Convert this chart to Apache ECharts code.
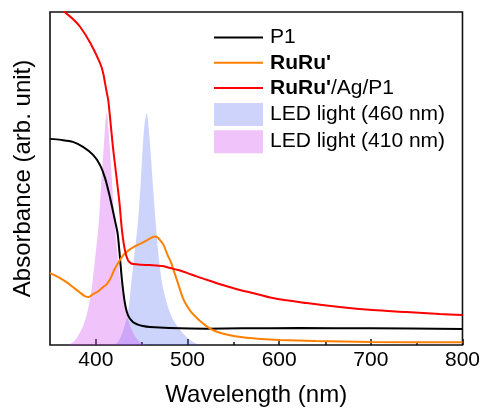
<!DOCTYPE html>
<html>
<head>
<meta charset="utf-8">
<script src="https://cdn.jsdelivr.net/npm/echarts@6/dist/echarts.min.js"></script>
<style>
  html, body { margin: 0; padding: 0; background: #fff; }
  #chart { width: 483px; height: 412px; }
</style>
</head>
<body>
<div id="chart"></div>
<script>
// Absorption spectra (arbitrary units) and LED emission profiles
const p1Wl  = [350, 362, 375, 386, 397, 404.5, 410, 415.4, 420.8, 424, 428.5, 431.7, 435, 440.4, 446, 451.3, 459, 480, 521, 560, 622, 700, 800];
const p1Abs = [0.619, 0.616, 0.610, 0.595, 0.571, 0.541, 0.502, 0.444, 0.375, 0.33, 0.195, 0.126, 0.090, 0.069, 0.061, 0.057, 0.054, 0.051, 0.049, 0.050, 0.051, 0.050, 0.048];

const ruWl  = [350, 357, 361, 368, 375, 382, 388, 392, 397, 403, 408, 412, 416, 420, 425, 430, 436, 443, 450, 456, 460, 464, 467, 470, 474, 478, 482, 486, 490, 495, 500, 505, 510, 515, 520, 530, 545, 560, 580, 600, 640, 700, 800];
const ruAbs = [0.216, 0.207, 0.201, 0.189, 0.174, 0.159, 0.147, 0.144, 0.153, 0.162, 0.174, 0.183, 0.200, 0.225, 0.249, 0.270, 0.285, 0.297, 0.306, 0.315, 0.321, 0.326, 0.324, 0.315, 0.300, 0.272, 0.248, 0.215, 0.182, 0.141, 0.115, 0.096, 0.082, 0.069, 0.058, 0.042, 0.030, 0.023, 0.018, 0.015, 0.012, 0.009, 0.008];

const hybWl  = [350, 366, 375, 383, 394, 404.5, 408, 410, 412, 413.5, 415, 419, 425.5, 428.5, 431.7, 435, 438, 441, 450, 459, 473, 481, 490, 500, 510, 521, 538.5, 557, 567, 593, 630, 666, 702, 739, 775, 800];
const hybAbs = [1.04, 1.0, 0.979, 0.955, 0.907, 0.847, 0.817, 0.787, 0.757, 0.736, 0.697, 0.586, 0.435, 0.345, 0.285, 0.255, 0.246, 0.243, 0.241, 0.240, 0.237, 0.231, 0.225, 0.216, 0.206, 0.196, 0.180, 0.165, 0.159, 0.141, 0.126, 0.114, 0.105, 0.099, 0.093, 0.090];

const led460Wl  = [420, 425, 430, 435, 439, 442, 446, 449, 451, 453, 455.5, 458, 460, 462, 465, 468, 472, 476, 481, 486, 492, 500, 508, 515];
const led460Int = [0, 0.012, 0.045, 0.096, 0.195, 0.27, 0.37, 0.49, 0.586, 0.66, 0.697, 0.64, 0.57, 0.49, 0.38, 0.28, 0.19, 0.14, 0.096, 0.068, 0.045, 0.022, 0.006, 0];

const led410Wl  = [370, 375, 380, 385, 390, 395, 400, 403, 406, 409, 411, 412, 414, 417, 420, 423, 427, 432, 437, 442, 447, 452, 455];
const led410Int = [0, 0.008, 0.025, 0.05, 0.09, 0.16, 0.28, 0.36, 0.49, 0.61, 0.69, 0.697, 0.64, 0.52, 0.39, 0.29, 0.19, 0.11, 0.06, 0.03, 0.012, 0.003, 0];

const majorTicks = [400, 500, 600, 700, 800];
const minorTicks = [450, 550, 650, 750];

const FONT = 'Liberation Sans, Arial, sans-serif';
const pairs = (xs, ys) => xs.map((x, i) => [x, ys[i]]);

const chart = echarts.init(document.getElementById('chart'), null, { renderer: 'canvas' });

const lineSeries = (name, xs, ys, color) => ({
  name, type: 'line', data: pairs(xs, ys),
  xAxisIndex: 0, yAxisIndex: 0,
  showSymbol: false, symbol: 'none', smooth: 0.3, clip: true,
  lineStyle: { color, width: 2 }, itemStyle: { color },
  emphasis: { disabled: true }
});

const bandSeries = (name, xs, ys, color, opacity) => ({
  name, type: 'line', data: pairs(xs, ys),
  xAxisIndex: 0, yAxisIndex: 0,
  showSymbol: false, symbol: 'none', smooth: 0.3, clip: true,
  lineStyle: { width: 0, opacity: 0 },
  itemStyle: { color },
  areaStyle: { color, opacity },
  emphasis: { disabled: true }
});

// legend entries for the curves show only the line stroke
const lineKey = (name) => ({ name, itemStyle: { opacity: 0 } });

chart.setOption({
  animation: false,
  backgroundColor: '#fff',
  grid: [
    { left: 50, right: 20, top: 12, bottom: 67, show: true, borderColor: '#111', borderWidth: 1.6, backgroundColor: 'transparent' },
    { left: 50, right: 20, top: 12, bottom: 67, show: false }
  ],
  xAxis: [
    {
      type: 'value', gridIndex: 0, min: 350, max: 800,
      name: 'Wavelength (nm)', nameLocation: 'middle', nameGap: 38,
      nameTextStyle: { fontFamily: FONT, fontSize: 24, color: '#000' },
      axisLine: { show: false },
      axisTick: { show: true, inside: true, length: 6, customValues: majorTicks, lineStyle: { color: '#111', width: 1.5 } },
      axisLabel: { show: true, customValues: majorTicks, margin: 5, fontFamily: FONT, fontSize: 21, color: '#000' },
      splitLine: { show: false }
    },
    {
      type: 'value', gridIndex: 1, min: 350, max: 800,
      axisLine: { show: false },
      axisTick: { show: true, inside: true, length: 3, customValues: minorTicks, lineStyle: { color: '#111', width: 1.5 } },
      axisLabel: { show: false },
      splitLine: { show: false }
    }
  ],
  yAxis: [
    {
      type: 'value', gridIndex: 0, min: 0, max: 1,
      name: 'Absorbance (arb. unit)', nameLocation: 'middle', nameGap: 15,
      nameTextStyle: { fontFamily: FONT, fontSize: 24, color: '#000' },
      axisLine: { show: false }, axisTick: { show: false },
      axisLabel: { show: false }, splitLine: { show: false }
    },
    {
      type: 'value', gridIndex: 1, min: 0, max: 1, show: false
    }
  ],
  legend: {
    orient: 'vertical', left: 213, top: 27, padding: 0,
    itemWidth: 49, itemHeight: 23, itemGap: 4.3,
    selectedMode: false,
    textStyle: {
      fontFamily: FONT, fontSize: 21, color: '#000', padding: [0, 0, 0, 2],
      rich: { b: { fontFamily: FONT, fontSize: 21, fontWeight: 'bold', color: '#000' } }
    },
    formatter: (name) => {
      if (name === "RuRu'") return "{b|RuRu'}";
      if (name === "RuRu'/Ag/P1") return "{b|RuRu'}/Ag/P1";
      return name;
    },
    data: [
      lineKey('P1'),
      lineKey("RuRu'"),
      lineKey("RuRu'/Ag/P1"),
      { name: 'LED light (460 nm)', icon: 'rect', itemStyle: { color: '#cdd3fb' } },
      { name: 'LED light (410 nm)', icon: 'rect', itemStyle: { color: '#f0c4fa' } }
    ]
  },
  series: [
    lineSeries('P1', p1Wl, p1Abs, '#000000'),
    lineSeries("RuRu'", ruWl, ruAbs, '#ff8000'),
    lineSeries("RuRu'/Ag/P1", hybWl, hybAbs, '#ff0000'),
    bandSeries('LED light (460 nm)', led460Wl, led460Int, 'rgb(55,83,239)', 0.25),
    bandSeries('LED light (410 nm)', led410Wl, led410Int, 'rgb(205,58,238)', 0.3)
  ]
});
</script>
</body>
</html>
